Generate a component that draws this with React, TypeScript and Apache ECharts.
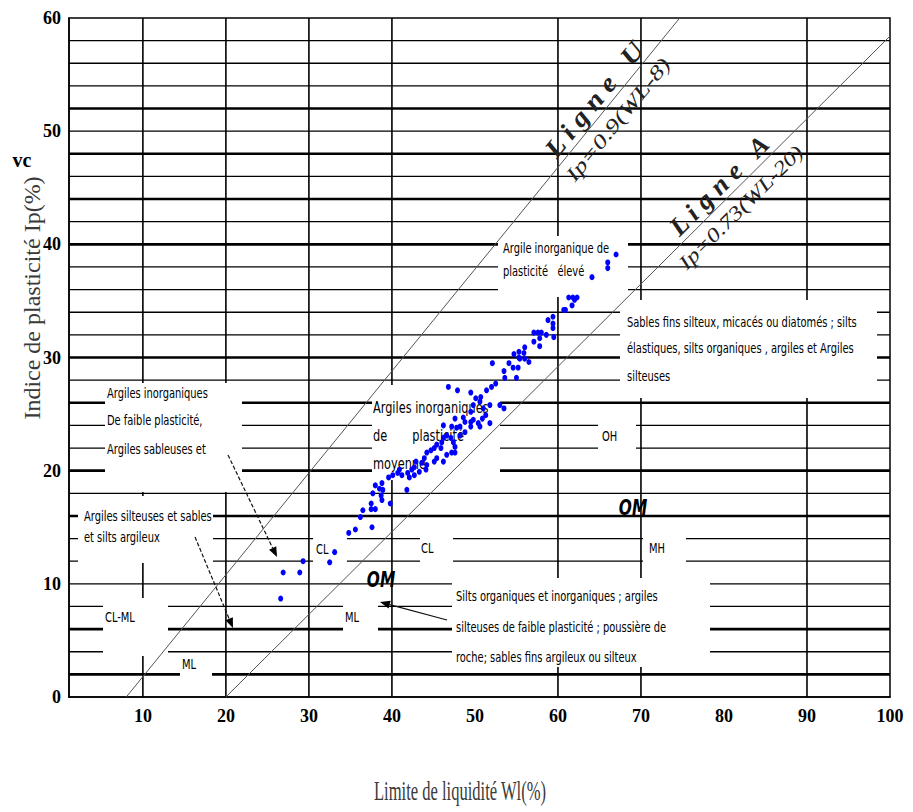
import React, { useEffect, useRef } from "react";
import * as echarts from "echarts";

// ---- axes ----
const X_MIN = 1.1;
const X_MAX = 100;
const Y_MIN = 0;
const Y_MAX = 60;
const xTickValues = [10, 20, 30, 40, 50, 60, 70, 80, 90, 100];

// ---- grid lines (values) ----
const hGridValues = [2, 4, 6, 8, 10, 12, 14, 16, 18, 20, 22, 24, 26, 28, 30, 32, 34, 36, 38, 40, 42, 44, 46, 48, 50, 52, 54, 56, 58];
const hGridThick = [2, 6, 16, 20, 26, 30, 40, 44, 48, 52];
const vGridValues = [10, 20, 30, 40, 60, 70, 90];

// ---- reference lines (Casagrande) ----
const uLineWL = [8, 74.67]; // Ip = 0.9 (WL - 8)
const aLineWL = [20, 100]; // Ip = 0.73 (WL - 20)

// ---- samples: [WL, Ip] ----
const samplesLow: [number, number][] = [
  [26.6, 8.7], [26.9, 11.0], [28.9, 11.0], [29.3, 12.0], [32.5, 11.9], [33.1, 12.8], [34.8, 14.5], [35.6, 14.8],
  [36.2, 15.9], [36.5, 16.5], [37.5, 16.6], [38.0, 16.6], [37.6, 15.0], [37.5, 17.1], [37.7, 18.0], [38.5, 18.4],
  [38.7, 17.8], [38.8, 17.4], [38.9, 18.3], [38.0, 18.7], [38.8, 18.9], [39.8, 17.1], [39.6, 19.4], [40.1, 19.6],
  [40.7, 19.8], [41.8, 18.3],
];
const samplesMid: [number, number][] = [
  [40.9, 20.1], [41.2, 19.6], [41.9, 19.8], [42.4, 20.1], [42.1, 19.4], [42.7, 19.6], [42.7, 20.3], [42.9, 20.8],
  [43.3, 19.9], [43.6, 20.7], [43.9, 21.1], [44.1, 20.1], [44.2, 20.5], [44.2, 21.6], [44.7, 21.8], [45.1, 20.8],
  [45.1, 22.0], [45.4, 21.1], [45.4, 22.3], [45.9, 22.0], [46.0, 22.5], [46.2, 20.8], [46.2, 22.9], [46.6, 21.4],
  [46.6, 23.1], [47.1, 22.9], [47.2, 21.6], [47.4, 22.5], [47.6, 22.1], [47.6, 21.6], [47.6, 24.6], [47.8, 23.8],
  [48.6, 24.7], [48.2, 23.1], [49.8, 24.5], [50.4, 24.2], [50.9, 24.6], [49.5, 23.9], [48.8, 23.4], [50.1, 26.4],
  [50.7, 26.5], [51.8, 25.8],
];
const samplesUpper: [number, number][] = [
  [46.8, 27.4], [47.9, 27.1], [49.5, 26.9], [51.4, 27.1], [52.0, 27.4], [52.1, 29.5], [52.5, 27.7], [53.5, 28.8],
  [53.6, 28.2], [54.1, 29.5], [54.6, 29.1], [55.0, 28.2], [55.3, 30.0], [54.7, 30.3], [55.9, 30.4], [56.0, 30.9],
  [50.6, 26.1], [49.8, 25.8], [51.0, 25.5], [53.0, 25.8], [53.5, 25.5], [49.5, 25.2], [51.3, 24.9], [49.5, 24.3],
  [48.8, 24.3], [46.2, 24.0], [47.2, 23.9], [48.2, 23.9], [50.6, 23.9], [51.8, 24.2],
];
const samplesHigh: [number, number][] = [
  [61.3, 35.3], [61.8, 35.3], [62.3, 35.3], [61.7, 34.6], [60.9, 34.2], [58.8, 33.3], [59.4, 33.6], [59.4, 33.0],
  [59.4, 32.6], [59.5, 31.8], [57.1, 32.2], [57.6, 32.2], [58.0, 32.2], [57.8, 31.7], [57.1, 31.4], [58.6, 32.0],
  [57.8, 31.0], [55.3, 30.5], [55.4, 29.9], [56.0, 29.9], [56.5, 29.6], [55.2, 29.1],
  [67.0, 39.1], [66.0, 37.9], [66.0, 38.4], [64.1, 37.1], [62.0, 35.1], [60.7, 34.2],
];

const NARROW = "'Liberation Sans Narrow', 'DejaVu Sans Condensed', 'Arial Narrow', sans-serif";
const SERIF = "'Liberation Serif', 'DejaVu Serif', serif";

function txt(text: string, x: number, y: number, opts: any = {}) {
  const size = opts.size ?? 12.5;
  const align = opts.align ?? "left";
  return {
    type: "text",
    x,
    y,
    z: opts.z ?? 3,
    rotation: opts.rotation ?? 0,
    scaleX: opts.scaleX ?? 0.88,
    scaleY: opts.scaleY ?? 1.08,
    silent: true,
    style: {
      text,
      x: 0,
      y: 0,
      fill: opts.color ?? "#000",
      font: `${opts.style ?? "normal"} ${opts.weight ?? "normal"} ${size}px ${opts.family ?? NARROW}`,
      align,
      textAlign: align,
      verticalAlign: "middle",
      textVerticalAlign: "middle",
    },
  };
}

function box(x: number, y: number, w: number, h: number) {
  return { type: "rect", z: 2, silent: true, shape: { x, y, width: w, height: h }, style: { fill: "#fff" } };
}

function arrow(x1: number, y1: number, x2: number, y2: number, dashed: boolean) {
  const dx = x2 - x1;
  const dy = y2 - y1;
  const len = Math.sqrt(dx * dx + dy * dy);
  const ux = dx / len;
  const uy = dy / len;
  const bx = x2 - ux * 10;
  const by = y2 - uy * 10;
  const px = -uy * 4;
  const py = ux * 4;
  return [
    {
      type: "line",
      z: 3,
      silent: true,
      shape: { x1, y1, x2: bx, y2: by },
      style: { stroke: "#111", lineWidth: 1.2, lineDash: dashed ? [4, 2] : null },
    },
    {
      type: "polygon",
      z: 3,
      silent: true,
      shape: { points: [[x2, y2], [bx + px, by + py], [bx - px, by - py]] },
      style: { fill: "#000" },
    },
  ];
}

export default function App() {
  const ref = useRef<HTMLDivElement>(null);

  useEffect(() => {
    if (!ref.current) return;
    const chart = echarts.init(ref.current, null, { renderer: "svg" });

    const samples = [...samplesLow, ...samplesMid, ...samplesUpper, ...samplesHigh];
    const uLine = uLineWL.map((w) => [w, 0.9 * (w - 8)]);
    const aLine = aLineWL.map((w) => [w, 0.73 * (w - 20)]);

    const U_ROT = 0.887;
    const A_ROT = 0.783;

    const graphic: any[] = [
      // white label boxes
      box(498, 236, 130, 61),
      box(620, 300, 257, 98),
      box(372, 385, 128, 95),
      box(598, 418, 38, 40),
      box(105, 383, 137, 109),
      box(78, 496, 135, 67),
      box(103, 598, 65, 58),
      box(180, 656, 32, 24),
      box(313, 531, 34, 36),
      box(420, 530, 33, 40),
      box(643, 519, 43, 64),
      box(343, 598, 35, 42),
      box(452, 578, 258, 89),

      // texts
      txt("Argile inorganique de", 503, 249),
      txt("plasticité   élevé", 503, 272),
      txt("Sables fins silteux, micacés ou diatomés ; silts", 627, 323),
      txt("élastiques, silts organiques , argiles et Argiles", 627, 349),
      txt("silteuses", 627, 377),
      txt("Argiles inorganiques", 373, 407, { size: 15, scaleX: 0.84 }),
      txt("de       plasticité", 373, 435, { size: 15, scaleX: 0.84 }),
      txt("moyenne", 373, 463, { size: 15, scaleX: 0.84 }),
      txt("OH", 602, 437),
      txt("Argiles inorganiques", 107, 394),
      txt("De faible plasticité,", 107, 421),
      txt("Argiles sableuses et", 107, 450),
      txt("Argiles silteuses et sables", 84, 517),
      txt("et silts argileux", 84, 538),
      txt("CL-ML", 105, 618),
      txt("ML", 182, 665),
      txt("CL", 316, 550),
      txt("CL", 421, 549),
      txt("MH", 649, 549),
      txt("ML", 345, 618),
      txt("Silts organiques et inorganiques ; argiles", 456, 597),
      txt("silteuses de faible plasticité ; poussière de", 456, 628),
      txt("roche; sables fins argileux ou silteux", 456, 658),
      txt("OM", 633, 508, { size: 19, weight: "bold", style: "italic", align: "center", scaleX: 0.9, scaleY: 1.15 }),
      txt("OM", 381, 580, { size: 19, weight: "bold", style: "italic", align: "center", scaleX: 0.9, scaleY: 1.15 }),

      // line names
      txt("L i g n e   U", 594, 99.5, { size: 26, weight: "bold", style: "italic", family: SERIF, align: "center", rotation: U_ROT, scaleX: 1.12, scaleY: 1, color: "#222" }),
      txt("Ip=0.9(WL-8)", 618, 119.5, { size: 20, style: "italic", family: SERIF, align: "center", rotation: U_ROT, scaleX: 1.35, scaleY: 1, color: "#222" }),
      txt("L i g n e   A", 719, 185.5, { size: 26, weight: "bold", style: "italic", family: SERIF, align: "center", rotation: A_ROT, scaleX: 1.05, scaleY: 1, color: "#222" }),
      txt("Ip=0.73(WL-20)", 741, 207.5, { size: 20, style: "italic", family: SERIF, align: "center", rotation: A_ROT, scaleX: 1.25, scaleY: 1, color: "#222" }),

      // arrows
      ...arrow(228, 455, 277, 557, true),
      ...arrow(195, 537, 233, 628, true),
      ...arrow(447, 620, 380, 602, false),

      // axis titles and corner mark
      txt("Indice de plasticité Ip(%)", 32, 298, { size: 24, family: SERIF, align: "center", rotation: Math.PI / 2, color: "#3a3a3a", scaleX: 1.0, scaleY: 1.0 }),
      txt("Limite de liquidité Wl(%)", 460, 791, { size: 24, family: SERIF, align: "center", color: "#3a3a3a", scaleX: 0.69, scaleY: 1.12 }),
      txt("vc", 22, 160, { size: 20, weight: "bold", family: SERIF, align: "center", scaleX: 1, scaleY: 1 }),
    ];

    const option: any = {
      animation: false,
      backgroundColor: "#fff",
      grid: {
        left: 69,
        right: 23,
        top: 18,
        bottom: 115,
        show: true,
        borderColor: "#000",
        borderWidth: 1.5,
        backgroundColor: "transparent",
      },
      xAxis: {
        type: "value",
        min: X_MIN,
        max: X_MAX,
        axisLine: { show: true, onZero: false, lineStyle: { color: "#000", width: 1.5 } },
        axisTick: { show: false },
        splitLine: { show: false },
        axisLabel: {
          customValues: xTickValues,
          margin: 10,
          color: "#000",
          fontFamily: SERIF,
          fontWeight: "bold",
          fontSize: 18,
        },
      },
      yAxis: {
        type: "value",
        min: Y_MIN,
        max: Y_MAX,
        interval: 10,
        axisLine: { show: true, onZero: false, lineStyle: { color: "#000", width: 1.5 } },
        axisTick: { show: false },
        splitLine: { show: false },
        axisLabel: {
          margin: 8,
          color: "#000",
          fontFamily: SERIF,
          fontWeight: "bold",
          fontSize: 18,
        },
      },
      series: [
        {
          type: "custom",
          name: "hgrid",
          z: 1,
          silent: true,
          clip: false,
          data: hGridValues.map((v) => [X_MIN, v]),
          renderItem: (params: any, api: any) => {
            const v = api.value(1);
            const cs = params.coordSys;
            const y = api.coord([X_MIN, v])[1];
            return {
              type: "line",
              shape: { x1: cs.x, y1: y, x2: cs.x + cs.width, y2: y },
              style: { stroke: "#000", lineWidth: hGridThick.includes(v) ? 2.6 : 1.3 },
            };
          },
        },
        {
          type: "custom",
          name: "vgrid",
          z: 1,
          silent: true,
          clip: false,
          data: vGridValues.map((v) => [v, Y_MIN]),
          renderItem: (params: any, api: any) => {
            const v = api.value(0);
            const cs = params.coordSys;
            const x = api.coord([v, Y_MIN])[0];
            return {
              type: "line",
              shape: { x1: x, y1: cs.y, x2: x, y2: cs.y + cs.height },
              style: { stroke: "#000", lineWidth: 1.6 },
            };
          },
        },
        {
          type: "line",
          name: "Ligne U",
          z: 4,
          data: uLine,
          symbol: "none",
          silent: true,
          lineStyle: { color: "#555", width: 1 },
        },
        {
          type: "line",
          name: "Ligne A",
          z: 4,
          data: aLine,
          symbol: "none",
          silent: true,
          lineStyle: { color: "#555", width: 1 },
        },
        {
          type: "scatter",
          name: "samples",
          z: 5,
          data: samples,
          symbol: "circle",
          symbolSize: [5, 6],
          itemStyle: { color: "#0000ff", opacity: 1 },
        },
      ],
      graphic: { elements: graphic },
    };

    chart.setOption(option);
    return () => chart.dispose();
  }, []);

  return (
    <div style={{ position: "absolute", left: 0, top: 0, width: 913, height: 812, background: "#fff" }}>
      <div ref={ref} style={{ width: 913, height: 812 }} />
    </div>
  );
}
